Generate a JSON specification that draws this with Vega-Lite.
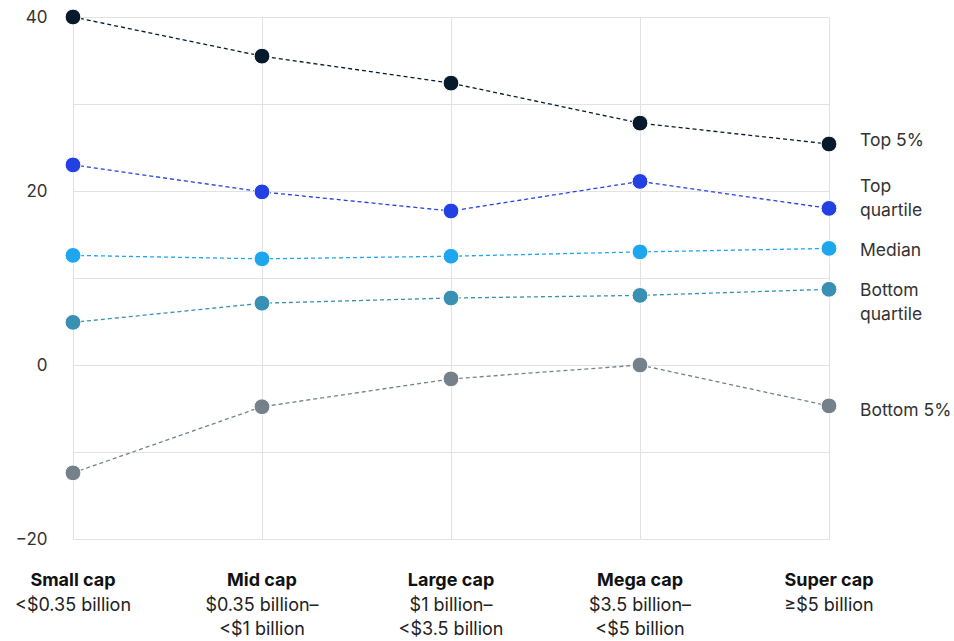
{
  "$schema": "https://vega.github.io/schema/vega-lite/v6.json",
  "width": 756,
  "height": 522,
  "autosize": {"type": "none"},
  "padding": {"left": 73, "top": 17, "right": 125, "bottom": 102},
  "background": "white",
  "config": {
    "font": "Inter",
    "view": {"stroke": null},
    "axis": {"domain": false, "ticks": false, "gridColor": "#e2e2e2", "gridWidth": 1}
  },
  "datasets": {
    "points": [
      {"cap": "Small cap", "series": "Top 5%", "value": 40.0},
      {"cap": "Mid cap", "series": "Top 5%", "value": 35.5},
      {"cap": "Large cap", "series": "Top 5%", "value": 32.4},
      {"cap": "Mega cap", "series": "Top 5%", "value": 27.8},
      {"cap": "Super cap", "series": "Top 5%", "value": 25.4},
      {"cap": "Small cap", "series": "Top quartile", "value": 23.0},
      {"cap": "Mid cap", "series": "Top quartile", "value": 19.9},
      {"cap": "Large cap", "series": "Top quartile", "value": 17.7},
      {"cap": "Mega cap", "series": "Top quartile", "value": 21.1},
      {"cap": "Super cap", "series": "Top quartile", "value": 18.0},
      {"cap": "Small cap", "series": "Median", "value": 12.6},
      {"cap": "Mid cap", "series": "Median", "value": 12.2},
      {"cap": "Large cap", "series": "Median", "value": 12.5},
      {"cap": "Mega cap", "series": "Median", "value": 13.0},
      {"cap": "Super cap", "series": "Median", "value": 13.4},
      {"cap": "Small cap", "series": "Bottom quartile", "value": 4.9},
      {"cap": "Mid cap", "series": "Bottom quartile", "value": 7.1},
      {"cap": "Large cap", "series": "Bottom quartile", "value": 7.7},
      {"cap": "Mega cap", "series": "Bottom quartile", "value": 8.0},
      {"cap": "Super cap", "series": "Bottom quartile", "value": 8.7},
      {"cap": "Small cap", "series": "Bottom 5%", "value": -12.4},
      {"cap": "Mid cap", "series": "Bottom 5%", "value": -4.8},
      {"cap": "Large cap", "series": "Bottom 5%", "value": -1.6},
      {"cap": "Mega cap", "series": "Bottom 5%", "value": 0.0},
      {"cap": "Super cap", "series": "Bottom 5%", "value": -4.7}
    ],
    "labels": [
      {"cap": "Super cap", "series": "Top 5%", "text": "Top 5%", "labelValue": 25.7},
      {"cap": "Super cap", "series": "Top quartile", "text": "Top\nquartile", "labelValue": 20.5},
      {"cap": "Super cap", "series": "Median", "text": "Median", "labelValue": 13.1},
      {"cap": "Super cap", "series": "Bottom quartile", "text": "Bottom\nquartile", "labelValue": 8.5},
      {"cap": "Super cap", "series": "Bottom 5%", "text": "Bottom 5%", "labelValue": -5.3}
    ],
    "caps": [
      {"cap": "Small cap", "desc": "<$0.35 billion"},
      {"cap": "Mid cap", "desc": "$0.35 billion–\n<$1 billion"},
      {"cap": "Large cap", "desc": "$1 billion–\n<$3.5 billion"},
      {"cap": "Mega cap", "desc": "$3.5 billion–\n<$5 billion"},
      {"cap": "Super cap", "desc": "≥$5 billion"}
    ]
  },
  "encoding": {
    "x": {
      "field": "cap", "type": "nominal",
      "sort": ["Small cap", "Mid cap", "Large cap", "Mega cap", "Super cap"],
      "scale": {"type": "point", "padding": 0, "domain": ["Small cap", "Mid cap", "Large cap", "Mega cap", "Super cap"]},
      "axis": {"title": null, "labels": false, "grid": true}
    }
  },
  "layer": [
    {
      "data": {"name": "points"},
      "mark": {"type": "line", "strokeDash": [4, 3], "strokeWidth": 1.3},
      "encoding": {
        "y": {
          "field": "value", "type": "quantitative",
          "scale": {"domain": [-20, 40], "nice": false, "zero": false},
          "axis": {
            "title": null,
            "values": [-20, -10, 0, 10, 20, 30, 40],
            "labelExpr": "datum.value % 20 == 0 ? replace(format(datum.value, 'd'), '-', '−') : ''",
            "labelPadding": 26,
            "labelFontSize": 17,
            "labelColor": "#333333",
            "labelFont": "Inter"
          }
        },
        "color": {
          "field": "series", "type": "nominal", "legend": null,
          "scale": {
            "domain": ["Top 5%", "Top quartile", "Median", "Bottom quartile", "Bottom 5%"],
            "range": ["#061a2b", "#2340e3", "#1ea6ef", "#3a90b2", "#74818b"]
          }
        },
        "detail": {"field": "series"}
      }
    },
    {
      "data": {"name": "points"},
      "mark": {"type": "point", "filled": true, "size": 250, "opacity": 1, "stroke": "white", "strokeWidth": 1},
      "encoding": {
        "y": {"field": "value", "type": "quantitative"},
        "color": {"field": "series", "type": "nominal", "legend": null}
      }
    },
    {
      "data": {"name": "labels"},
      "mark": {"type": "text", "align": "left", "baseline": "middle", "dx": 31, "fontSize": 17.5, "lineHeight": 24, "color": "#333333", "lineBreak": "\n"},
      "encoding": {
        "y": {"field": "labelValue", "type": "quantitative"},
        "text": {"field": "text"}
      }
    },
    {
      "data": {"name": "caps"},
      "mark": {"type": "text", "align": "center", "baseline": "alphabetic", "dy": 47, "fontSize": 18, "fontWeight": "bold", "color": "#111111"},
      "encoding": {
        "y": {"datum": -20, "type": "quantitative"},
        "text": {"field": "cap"}
      }
    },
    {
      "data": {"name": "caps"},
      "mark": {"type": "text", "align": "center", "baseline": "alphabetic", "dy": 72, "fontSize": 18, "lineHeight": 24, "lineBreak": "\n", "color": "#222222"},
      "encoding": {
        "y": {"datum": -20, "type": "quantitative"},
        "text": {"field": "desc"}
      }
    }
  ]
}
